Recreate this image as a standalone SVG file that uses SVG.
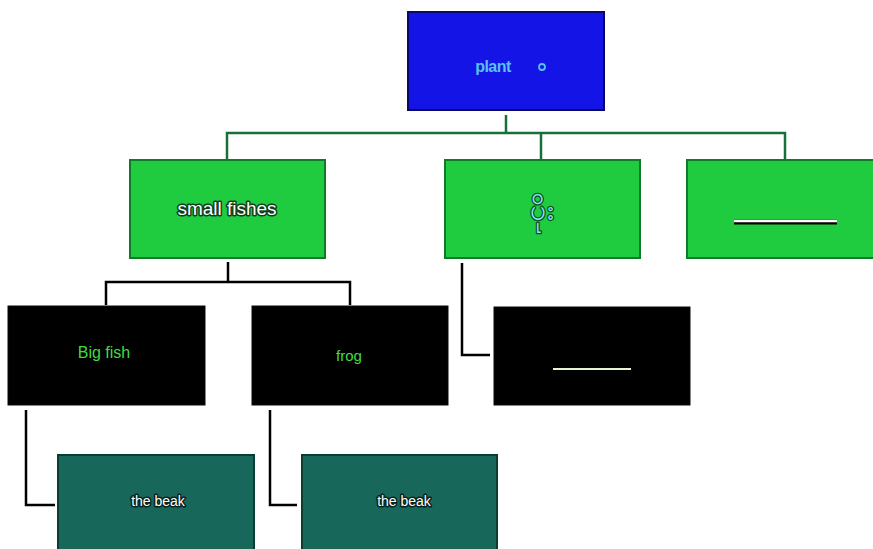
<svg xmlns="http://www.w3.org/2000/svg" width="873" height="549" viewBox="0 0 873 549">
<style>
.green{fill:#1fcc3f;stroke:#117a2a;stroke-width:2}
.blk{fill:#000;stroke:#0a0a0a;stroke-width:1}
.teal{fill:#17685a;stroke:#0b3d33;stroke-width:2}
.gl{fill:none;stroke:#17703a;stroke-width:2.5}
.bl{fill:none;stroke:#000;stroke-width:2.5}
.t{font-family:"Liberation Sans",Arial,sans-serif;text-anchor:middle}
.ol{paint-order:stroke;stroke-linejoin:round}
</style>
<rect width="873" height="549" fill="#fff"/>
<g id="connectors">
<path class="gl" d="M506 115V133M227 160V133H785V160M541 133V160"/>
<path class="bl" d="M228 262V282M106 305V282H350V305"/>
<path class="bl" d="M462 263V355H490"/>
<path class="bl" d="M26 410V505H55"/>
<path class="bl" d="M270 410V505H297"/>
</g>
<g id="plant">
<rect x="408" y="12" width="196" height="98" fill="#1414e6" stroke="#0a0a66" stroke-width="2"/>
<text class="t" x="493" y="72" font-size="16" fill="#5ac0f0" font-weight="bold" letter-spacing="-0.5">plant</text>
<circle cx="542" cy="67" r="3" fill="none" stroke="#5ac0f0" stroke-width="1.8"/>
</g>
<g id="small-fishes">
<rect class="green" x="130" y="160" width="195" height="98"/>
<text class="t ol" x="227" y="215" font-size="19" fill="#fff" stroke="#0d3d1a" stroke-width="3">small fishes</text>
</g>
<g id="node-mm">
<rect class="green" x="445" y="160" width="195" height="98"/>
<text class="t ol" x="541" y="220" font-size="28" fill="#7fe8ff" stroke="#0d4d22" stroke-width="2.5" font-family="'Noto Sans Myanmar','Padauk','Myanmar Text',sans-serif">ပိုး</text>
</g>
<g id="node-green3">
<rect class="green" x="687" y="160" width="190" height="98"/>
<line x1="734" y1="222" x2="837" y2="222" stroke="#000" stroke-width="5"/>
<line x1="734" y1="221" x2="837" y2="221" stroke="#fff" stroke-width="2.5"/>
</g>
<g id="big-fish">
<rect class="blk" x="8" y="306" width="197" height="99"/>
<text class="t" x="104" y="358" font-size="16" fill="#3fdd3f">Big fish</text>
</g>
<g id="frog">
<rect class="blk" x="252" y="306" width="196" height="99"/>
<text class="t" x="349" y="361" font-size="15" fill="#3fdd3f">frog</text>
</g>
<g id="node-black3">
<rect class="blk" x="494" y="307" width="196" height="98"/>
<line x1="553" y1="369" x2="631" y2="369" stroke="#e6f5d0" stroke-width="2"/>
</g>
<g id="beak1">
<rect class="teal" x="58" y="455" width="196" height="98"/>
<text class="t ol" x="158" y="506" font-size="14" fill="#fff" stroke="#06231d" stroke-width="3">the beak</text>
</g>
<g id="beak2">
<rect class="teal" x="302" y="455" width="195" height="98"/>
<text class="t ol" x="404" y="506" font-size="14" fill="#fff" stroke="#06231d" stroke-width="3">the beak</text>
</g>
</svg>
